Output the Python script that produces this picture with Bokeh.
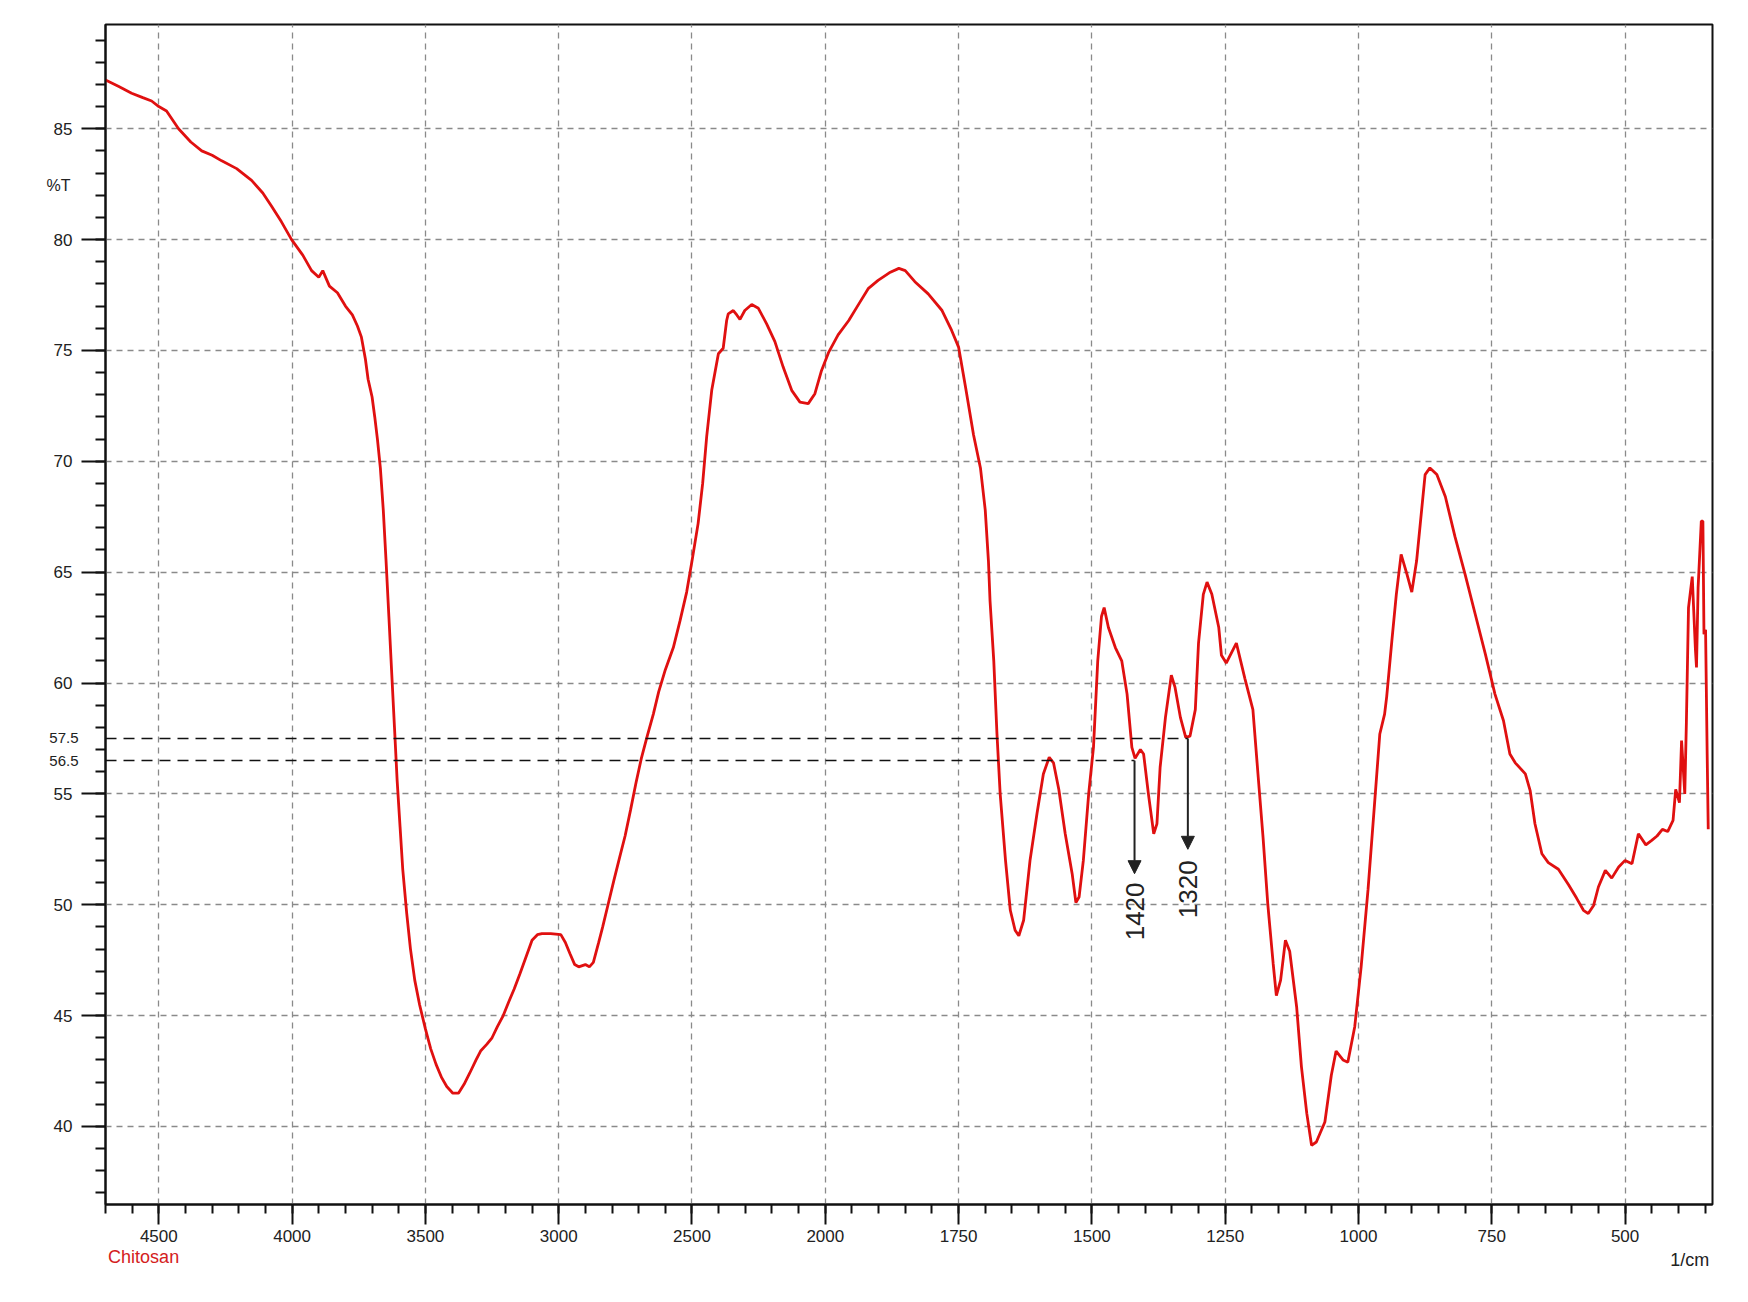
import math
from bokeh.plotting import figure
from bokeh.models import Range1d, FixedTicker, LinearAxis, Arrow, NormalHead
from bokeh.embed import file_html
from bokeh.resources import INLINE
from bokeh.core.properties import value

wavenumber = [
    4700, 4650, 4602, 4560, 4527, 4500, 4471, 4426, 4380, 4339, 4300, 4264, 4208, 4152, 4110, 4077,
    4040, 4002, 3960, 3927, 3900, 3885, 3860, 3830, 3800, 3774, 3755, 3740, 3725, 3715, 3700, 3690,
    3680, 3669, 3658, 3648, 3637, 3627, 3616, 3606, 3595, 3585, 3570, 3556, 3540, 3522, 3500, 3480,
    3460, 3439, 3420, 3397, 3376, 3355, 3334, 3310, 3293, 3270, 3250, 3230, 3208, 3188, 3167, 3145,
    3124, 3100, 3080, 3063, 3030, 2992, 2975, 2958, 2940, 2925, 2900, 2885, 2870, 2850, 2835, 2815,
    2793, 2770, 2751, 2730, 2710, 2690, 2668, 2645, 2625, 2600, 2570, 2545, 2520, 2500, 2477, 2460,
    2445, 2426, 2401, 2383, 2370, 2364, 2345, 2332, 2320, 2302, 2276, 2251, 2220, 2189, 2158, 2126,
    2095, 2064, 2039, 2014, 1994, 1976, 1956, 1937, 1919, 1901, 1880, 1862, 1850, 1832, 1807, 1781,
    1763, 1750, 1737, 1722, 1709, 1700, 1694, 1691, 1684, 1678, 1672, 1662, 1653, 1644, 1637, 1628,
    1616, 1603, 1591, 1580, 1572, 1562, 1550, 1537, 1530, 1524, 1516, 1506, 1497, 1489, 1482, 1477,
    1469, 1456, 1444, 1434, 1425, 1419, 1409, 1403, 1394, 1384, 1378, 1372, 1362, 1351, 1344, 1334,
    1324, 1316, 1306, 1300, 1291, 1284, 1275, 1262, 1257, 1248, 1229, 1213, 1198, 1188, 1179, 1170,
    1160, 1154, 1146, 1137, 1129, 1116, 1107, 1097, 1088, 1079, 1063, 1051, 1042, 1029, 1020, 1007,
    995, 982, 970, 960, 951, 947, 937, 929, 920, 909, 900, 891, 884, 875, 866, 853,
    837, 819, 800, 781, 762, 744, 728, 716, 706, 687, 678, 669, 656, 644, 625, 606,
    591, 578, 569, 559, 550, 537, 525, 512, 500, 487, 475, 461, 450, 440, 430, 420,
    410, 405, 398, 394, 388, 385, 381, 374, 368, 366, 363, 357, 354, 352, 349, 346,
    344,
]
transmittance = [
    87.2, 86.9, 86.6, 86.4, 86.25, 86.0, 85.8, 85.0, 84.4, 84.0, 83.8, 83.55, 83.2, 82.67, 82.1, 81.5,
    80.8, 80.0, 79.3, 78.6, 78.3, 78.6, 77.9, 77.6, 77.0, 76.6, 76.1, 75.6, 74.6, 73.7, 72.9, 72.0,
    71.0, 69.7, 67.8, 65.6, 63.0, 60.6, 58.0, 55.6, 53.5, 51.6, 49.6, 48.0, 46.6, 45.5, 44.4, 43.5,
    42.8, 42.2, 41.8, 41.5, 41.5, 41.9, 42.4, 43.0, 43.4, 43.7, 44.0, 44.5, 45.0, 45.6, 46.2, 46.9,
    47.6, 48.4, 48.65, 48.7, 48.7, 48.65, 48.3, 47.8, 47.3, 47.2, 47.3, 47.2, 47.4, 48.3, 49.0, 50.0,
    51.1, 52.2, 53.1, 54.3, 55.5, 56.6, 57.6, 58.6, 59.6, 60.6, 61.6, 62.8, 64.1, 65.5, 67.2, 69.0,
    71.1, 73.2, 74.85, 75.1, 76.35, 76.65, 76.8, 76.6, 76.4, 76.8, 77.07, 76.9, 76.2, 75.4, 74.25, 73.2,
    72.67, 72.6, 73.05, 74.1, 74.9, 75.7, 76.35, 77.1, 77.8, 78.16, 78.5, 78.7, 78.6, 78.1, 77.55, 76.8,
    75.9, 75.15, 73.35, 71.2, 69.7, 67.8, 65.5, 63.7, 61.0, 57.7, 55.0, 52.0, 49.75, 48.85, 48.6, 49.3,
    52.0, 54.1, 55.9, 56.65, 56.4, 55.2, 53.2, 51.4, 50.1, 50.35, 52.0, 55.0, 57.1, 61.0, 63.0, 63.4,
    62.5, 61.6, 61.0, 59.5, 57.1, 56.6, 57.0, 56.8, 55.0, 53.2, 53.65, 56.2, 58.45, 60.35, 59.8, 58.45,
    57.55, 57.6, 58.8, 61.8, 64.0, 64.55, 64.0, 62.5, 61.25, 60.9, 61.8, 60.2, 58.8, 55.75, 53.05, 50.0,
    47.35, 45.9, 46.6, 48.4, 47.9, 45.4, 42.7, 40.6, 39.15, 39.3, 40.2, 42.3, 43.4, 43.0, 42.9, 44.5,
    47.2, 50.7, 54.5, 57.7, 58.6, 59.4, 62.0, 64.0, 65.8, 64.9, 64.1, 65.5, 67.2, 69.4, 69.7, 69.4,
    68.4, 66.6, 64.9, 63.1, 61.3, 59.5, 58.3, 56.8, 56.4, 55.9, 55.15, 53.65, 52.3, 51.9, 51.6, 50.9,
    50.3, 49.75, 49.6, 49.97, 50.8, 51.55, 51.2, 51.7, 52.0, 51.85, 53.2, 52.7, 52.9, 53.1, 53.4, 53.3,
    53.8, 55.2, 54.6, 57.4, 55.0, 58.2, 63.4, 64.8, 61.5, 60.7, 64.3, 67.3, 67.3, 62.2, 62.4, 56.8,
    53.4,
]

tick_wavenumbers = [4500, 4000, 3500, 3000, 2500, 2000, 1750, 1500, 1250, 1000, 750, 500]
tick_labels = ["4500", "4000", "3500", "3000", "2500", "2000", "1750", "1500", "1250", "1000", "750", "500"]
y_ticks = [40, 45, 50, 55, 60, 65, 70, 75, 80, 85]
marked_peaks = [1420, 1320]
marked_levels = [56.5, 57.5]
marked_arrow_ends = [51.4, 52.5]
marked_text_y = [49.7, 50.7]
peak_labels = ["1420", "1320"]
level_labels = ["56.5", "57.5"]
sample_name = "Chitosan"
x_unit = "1/cm"
y_unit = "%T"
wn_left, wn_right = 4700, 336
t_bottom, t_top = 36.48, 89.7


def to_axis(wn):
    """Spectrometer x scale: 500 cm-1 per division above 2000, 250 cm-1 below."""
    if wn >= 2000:
        return (4500 - wn) / 500.0
    return 5 + (2000 - wn) / 250.0


FONT = "Liberation Sans"
TXT = "#222222"
W, H = 1740, 1294

p = figure(width=W, height=H, output_backend="svg", toolbar_location=None,
           x_range=Range1d(to_axis(wn_left), to_axis(wn_right)),
           y_range=Range1d(t_bottom, t_top))
p.min_border_left = 105
p.min_border_right = W - 1712
p.min_border_top = 24
p.min_border_bottom = H - 1204
p.background_fill_color = "white"
p.border_fill_color = "white"
p.outline_line_color = "#111111"
p.outline_line_width = 2

minor_wn = list(range(4700, 2000, -100)) + list(range(2000, 330, -50))
p.xaxis.ticker = FixedTicker(ticks=[int(round(to_axis(w))) for w in tick_wavenumbers],
                             minor_ticks=[to_axis(w) for w in minor_wn])
p.xaxis.major_label_overrides = {int(round(to_axis(w))): lab for w, lab in zip(tick_wavenumbers, tick_labels)}
p.yaxis.ticker = FixedTicker(ticks=y_ticks, minor_ticks=list(range(37, 90)))

for ax in (p.xaxis[0], p.yaxis[0]):
    ax.axis_line_color = "#111111"
    ax.axis_line_width = 2
    ax.major_tick_line_color = "#111111"
    ax.major_tick_line_width = 2
    ax.minor_tick_line_color = "#111111"
    ax.minor_tick_line_width = 2
    ax.major_tick_in = 0
    ax.minor_tick_in = 0
    ax.major_label_text_font = FONT
    ax.major_label_text_font_size = "17px"
    ax.major_label_text_color = TXT
p.yaxis.major_tick_out = 24
p.yaxis.minor_tick_out = 10
p.yaxis.major_label_standoff = 9
p.xaxis.major_tick_out = 20
p.xaxis.minor_tick_out = 9
p.xaxis.major_label_standoff = 5

p.grid.grid_line_color = "#8a8a8a"
p.grid.grid_line_dash = "6 5"
p.grid.grid_line_width = 1.3
p.xgrid.ticker = p.xaxis[0].ticker
p.ygrid.ticker = p.yaxis[0].ticker


def text_axis(ticks, labels, color, size, standoff):
    """A bare axis (no line, no tick marks) that only carries text labels."""
    ax = LinearAxis(ticker=FixedTicker(ticks=ticks, minor_ticks=[]),
                    major_label_overrides=dict(zip(ticks, labels)))
    ax.axis_line_color = None
    ax.major_tick_line_color = None
    ax.minor_tick_line_color = None
    ax.major_tick_in = 0
    ax.major_tick_out = 0
    ax.minor_tick_in = 0
    ax.minor_tick_out = 0
    ax.major_label_standoff = standoff
    ax.major_label_text_font = FONT
    ax.major_label_text_font_size = size
    ax.major_label_text_color = color
    return ax


# extra texts outside the frame, carried by label-only axes
p.add_layout(text_axis(marked_levels, level_labels, TXT, "15px", -28), "left")
p.add_layout(text_axis([82.44], [y_unit], TXT, "16px", -24), "left")
p.add_layout(text_axis([-0.114], [sample_name], "#d42020", "18px", 2), "below")
p.add_layout(text_axis([11.485], [x_unit], TXT, "18px", -20), "below")

# spectrum
p.line([to_axis(w) for w in wavenumber], transmittance, line_color="#e01010", line_width=2.8)

# marked levels and arrows
x0 = to_axis(wn_left)
p.segment(x0=[x0] * len(marked_peaks), y0=marked_levels,
          x1=[to_axis(w) for w in marked_peaks], y1=marked_levels,
          line_color="#111111", line_width=1.5, line_dash="11 7")
for w, lvl, end in zip(marked_peaks, marked_levels, marked_arrow_ends):
    p.add_layout(Arrow(x_start=to_axis(w), y_start=lvl, x_end=to_axis(w), y_end=end,
                       line_color="#222222", line_width=2,
                       end=NormalHead(size=13, fill_color="#222222", line_color="#222222")))
p.text(x=[to_axis(w) for w in marked_peaks], y=marked_text_y, text=peak_labels,
       angle=math.pi / 2, text_align="center", text_baseline="middle",
       text_font=value(FONT), text_font_size="26px", text_color="#222222")

open("out.html", "w").write(file_html(p, INLINE))
